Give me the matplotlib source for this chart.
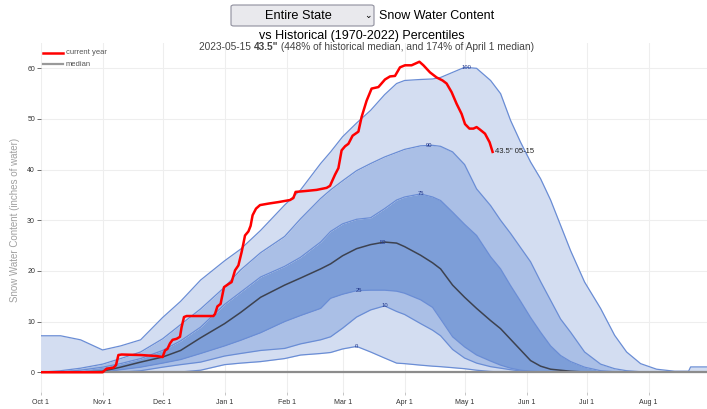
import numpy as np
import pandas as pd
import matplotlib
matplotlib.use('Agg')
import matplotlib.pyplot as plt
from matplotlib.lines import Line2D
from matplotlib.patches import FancyBboxPatch

plt.rcParams['font.family'] = ['Liberation Sans', 'DejaVu Sans']

season_start = pd.Timestamp('2022-10-01')

# days after Oct 1 (water year 2023) for the historical percentile curves
wy_day = [0, 10, 20, 31, 40, 50, 61, 70, 80, 92, 100, 110, 122, 130, 140, 145, 151, 158,
          165, 172, 178, 182, 190, 196, 200, 206, 212, 218, 225, 230, 235, 240, 245, 250,
          255, 260, 265, 272, 280, 287, 293, 300, 308, 317, 324, 325, 333]

p0 = [0, 0, 0, 0, 0, 0, 0, 0.05, 0.4, 1.5, 1.8, 2.1, 2.7, 3.4, 3.7, 3.9, 4.6, 5.1,
      4.0, 2.8, 1.8, 1.7, 1.4, 1.2, 1.1, 0.9, 0.7, 0.4, 0.15, 0.05, 0, 0, 0, 0,
      0, 0, 0, 0, 0, 0, 0, 0, 0, 0, 0, 0, 0]
p10 = [0, 0, 0, 0, 0, 0.3, 1.0, 1.5, 2.0, 3.2, 3.7, 4.3, 4.7, 5.6, 6.4, 7.0, 8.7, 10.9,
       12.3, 13.1, 12.0, 11.4, 9.6, 8.3, 7.2, 4.5, 2.8, 1.8, 1.1, 0.8, 0.5, 0.25, 0.1, 0,
       0, 0, 0, 0, 0, 0, 0, 0, 0, 0, 0, 0, 0]
p25 = [0, 0, 0, 0, 0.5, 1.0, 1.8, 2.5, 3.7, 5.2, 6.3, 7.8, 10.0, 11.2, 12.6, 14.6, 15.4, 16.1,
       16.2, 16.2, 16.0, 15.6, 14.3, 12.8, 10.5, 7.0, 5.0, 3.4, 2.2, 1.4, 0.8, 0.4, 0.2, 0.1,
       0, 0, 0, 0, 0, 0, 0, 0, 0, 0, 0, 0, 0]
p50 = [0, 0, 0.05, 0.2, 1.0, 2.0, 3.0, 4.3, 6.8, 9.6, 11.8, 14.8, 17.2, 18.6, 20.4, 21.4, 23.0, 24.4,
       25.2, 25.7, 25.5, 24.8, 23.1, 21.6, 20.4, 17.2, 14.8, 12.6, 10.2, 8.6, 6.5, 4.4, 2.3, 1.2,
       0.6, 0.4, 0.2, 0.05, 0, 0, 0, 0, 0, 0, 0, 0, 0]
p75 = [0, 0.1, 0.4, 1.0, 1.7, 2.7, 4.3, 6.2, 8.9, 13.4, 15.8, 18.8, 20.9, 22.7, 25.7, 27.8, 29.3, 30.2,
       30.5, 32.3, 34.0, 34.6, 35.2, 34.6, 33.9, 31.6, 29.2, 27.0, 22.8, 20.4, 17.1, 14.0, 10.8, 7.9,
       5.2, 3.3, 2.1, 1.0, 0.3, 0.1, 0, 0, 0, 0, 0, 0, 0]
p90 = [0, 0.3, 0.8, 1.6, 2.7, 4.0, 6.6, 9.4, 12.5, 16.8, 20.2, 23.6, 26.8, 30.3, 34.3, 36.0, 37.8, 39.8,
       41.2, 42.5, 43.4, 44.0, 44.7, 44.8, 44.6, 43.5, 41.0, 36.2, 32.9, 30.0, 27.4, 24.6, 21.8, 17.9,
       14.2, 10.5, 7.9, 4.0, 1.6, 0.7, 0.3, 0.1, 0, 0, 0, 0, 0]
p100 = [7.2, 7.2, 6.4, 4.4, 5.2, 6.4, 10.8, 14.0, 18.2, 22.0, 24.3, 28.0, 33.0, 36.0, 41.2, 43.5, 46.5, 49.2,
        51.7, 54.8, 57.0, 57.6, 57.8, 57.9, 58.2, 59.2, 60.2, 60.0, 57.6, 55.0, 49.7, 45.4, 41.5, 38.2,
        34.0, 29.0, 24.0, 17.8, 12.6, 7.3, 4.0, 1.7, 0.6, 0.2, 0.2, 1.05, 1.05]

pct_names = ['0', '10', '25', '50', '75', '90', '100']
label_day = [158, 172, 159, 171, 190, 194, 213]

# current year (2023) snow water content
cur_day = [0, 31, 33, 36.4, 37.7, 38.9, 40.5, 50, 58, 61, 62.2, 63.4, 64.7, 66, 68, 69.7, 70.5, 71.7, 73,
           86.4, 87.2, 88.4, 90, 91.7, 93.9, 95.5, 97.2, 98.9, 100.5, 101.4, 102.2, 103.9, 105, 106,
           107.7, 109.7, 114, 119, 124.7, 126.4, 127.5, 133, 138, 143, 144.7, 147.2, 148.9, 150.5,
           152.2, 153.9, 156, 158.9, 160.5, 163, 165.5, 168.9, 172.2, 174.7, 177.2, 179.7, 182.2,
           185.5, 189.4, 191.4, 194.7, 198, 201, 203, 205.5, 208, 210.5, 212.2, 214.4, 216.4, 218,
           219.7, 222.2, 224.5, 226]
cur_swe = [0, 0, 0.7, 0.9, 1.4, 3.4, 3.5, 3.4, 3.2, 3.0, 4.3, 4.6, 5.7, 6.4, 6.6, 7.0, 8.9, 10.9, 11.1,
           11.1, 11.5, 13.0, 13.5, 16.8, 17.4, 17.8, 20.1, 21.1, 23.7, 25.4, 27.0, 27.8, 28.9, 31.0,
           32.3, 33.0, 33.3, 33.6, 34.0, 34.4, 35.6, 35.8, 36.0, 36.4, 36.8, 39.0, 40.3, 43.8,
           44.6, 45.1, 46.7, 47.5, 50.4, 53.6, 56.0, 56.3, 57.8, 58.4, 58.5, 60.2, 60.6,
           60.6, 61.3, 60.6, 59.2, 58.2, 57.6, 57.0, 55.3, 53.0, 51.0, 49.0, 48.1, 48.1, 48.4,
           47.9, 47.1, 45.4, 43.5]

W, H = 707, 409
fig = plt.figure(figsize=(W / 100, H / 100), dpi=100)
ax = fig.add_axes([40.6 / W, 1 - 392 / H, (W - 40.6) / W, (392 - 43) / H])

light, mid, dark = '#d3ddf1', '#aabfe6', '#7d9ed8'
edge = '#6a8dd5'
x = np.array(wy_day)
curves = [np.array(c) for c in (p0, p10, p25, p50, p75, p90, p100)]

ax.fill_between(x, curves[0], curves[1], color=light, lw=0)
ax.fill_between(x, curves[1], curves[2], color=mid, lw=0)
ax.fill_between(x, curves[2], curves[4], color=dark, lw=0)
ax.fill_between(x, curves[4], curves[5], color=mid, lw=0)
ax.fill_between(x, curves[5], curves[6], color=light, lw=0)
for i, c in enumerate(curves):
    if pct_names[i] == '50':
        continue
    ax.plot(x, c, color=edge, lw=0.9)
ax.plot(x, curves[3], color='#3d4250', lw=1.1)

ax.axhline(0, color='#8c8c8c', lw=1.6, zorder=3)
ax.plot(cur_day, cur_swe, color='#ff0000', lw=1.8, zorder=5, solid_joinstyle='round')

for name, d, c in zip(pct_names, label_day, curves):
    ax.text(d, np.interp(d, x, c), name, fontsize=4.2, color='#24398c',
            ha='center', va='center', zorder=6)

ax.annotate('43.5" 05-15', xy=(cur_day[-1], cur_swe[-1]), xytext=(2, 0),
            textcoords='offset points', fontsize=5.5, color='#222222', va='center', zorder=6)

months = pd.date_range('2022-10-01', '2023-08-01', freq='MS')
ax.set_xticks((months - season_start).days)
ax.set_xticklabels([f"{m:%b} 1" for m in months])
ax.set_yticks(range(0, 61, 10))
ax.set_xlim(0, (W - 40.6) / 2.0)
ax.set_ylim(-3.9, 65)
ax.tick_params(axis='x', length=2, width=0.6, color='#bbbbbb', labelsize=5, labelcolor='#333333', pad=3)
ax.tick_params(axis='y', length=3, width=0.6, color='#555555', labelsize=5, labelcolor='#333333', pad=1)
ax.grid(color='#eeeeee', lw=0.8)
ax.set_axisbelow(True)
for s in ax.spines.values():
    s.set_visible(False)

fig.text(15 / W, 1 - 220 / H, 'Snow Water Content (inches of water)', rotation=90,
         color='#a0a0a0', fontsize=7, ha='center', va='center')

# header with the region dropdown
box = FancyBboxPatch((231 / W, 1 - 26 / H), 143 / W, 21 / H, transform=fig.transFigure,
                     boxstyle='round,pad=0,rounding_size=0.004', facecolor='#e9e9ed',
                     edgecolor='#8f8f9d', lw=0.8)
fig.add_artist(box)
fig.text(298 / W, 1 - 16 / H, 'Entire State', fontsize=9.2, ha='center', va='center', color='#000000')
fig.text(368 / W, 1 - 15 / H, '⌄', fontsize=6.5, ha='center', va='center', color='#000000')
fig.text(379 / W, 1 - 16 / H, 'Snow Water Content', fontsize=9, ha='left', va='center', color='#000000')
fig.text(362 / W, 1 - 36 / H, 'vs Historical (1970-2022) Percentiles', fontsize=9,
         ha='center', va='center', color='#000000')

# subtitle, with the bold current value in the middle
parts = [('2023-05-15 ', 'normal'), ('43.5"', 'bold'),
         (' (448% of historical median, and 174% of April 1 median)', 'normal')]
renderer = fig.canvas.get_renderer()
texts = [fig.text(0, 1 - 47 / H, s, fontsize=7.3, fontweight=w, color='#444444', va='center')
         for s, w in parts]
widths = [t.get_window_extent(renderer).width for t in texts]
xpos = 366.5 - sum(widths) / 2
for t, w in zip(texts, widths):
    t.set_x(xpos / W)
    xpos += w

# legend
fig.add_artist(Line2D([43 / W, 63 / W], [1 - 52.7 / H] * 2, color='#ff0000', lw=1.8))
fig.add_artist(Line2D([43 / W, 63 / W], [1 - 64 / H] * 2, color='#999999', lw=1.6))
fig.text(66 / W, 1 - 52.7 / H, 'current year', fontsize=5.5, color='#555555', va='center')
fig.text(66 / W, 1 - 64 / H, 'median', fontsize=5.5, color='#555555', va='center')

fig.savefig('out.png', dpi=100)
